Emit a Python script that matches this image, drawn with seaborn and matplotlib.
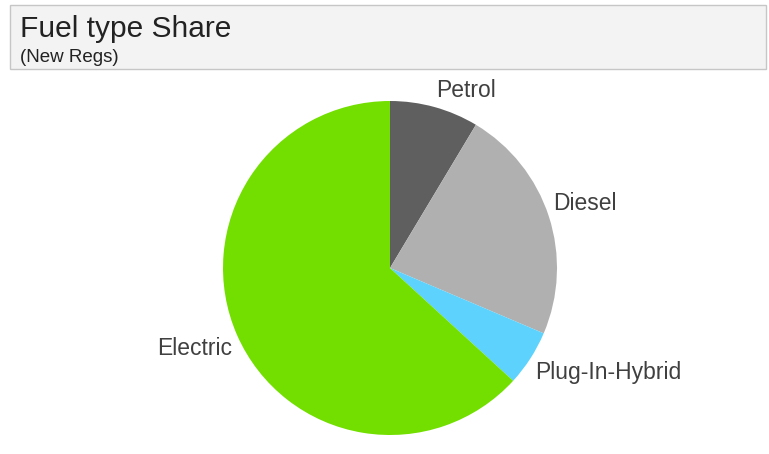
import matplotlib
matplotlib.use("Agg")
import matplotlib.pyplot as plt
from matplotlib.patches import Rectangle
import seaborn as sns

# Share of new registrations by fuel type (%)
fuel_types = ["Petrol", "Diesel", "Plug-In-Hybrid", "Electric"]
shares = [8.6, 22.8, 5.4, 63.2]
slice_colors = ["#5f5f5f", "#b0b0b0", "#5cd2fd", "#72df00"]

title = "Fuel type Share"
subtitle = "(New Regs)"

sns.set_theme(style="white")
plt.rcParams["font.family"] = ["Liberation Sans", "DejaVu Sans"]

W, H = 769, 454
fig = plt.figure(figsize=(W / 100, H / 100), dpi=100)
fig.patch.set_facecolor("white")

# Header panel
fig.patches.append(Rectangle((10 / W, 1 - 69 / H), 756 / W, 64 / H,
                             transform=fig.transFigure, facecolor="#f3f3f3",
                             edgecolor="#c6c6c6", linewidth=1.0, zorder=0))
fig.text(20 / W, 1 - 37 / H, title, fontsize=21.5, color="#222222",
         ha="left", va="baseline")
fig.text(20 / W, 1 - 62 / H, subtitle, fontsize=13.5, color="#222222",
         ha="left", va="baseline")

# Pie: centre at (390, 268) px, radius 167 px
r_px = 167
lim = 1.1
side = 2 * r_px * lim
cx, cy = 390, H - 268
ax = fig.add_axes([(cx - side / 2) / W, (cy - side / 2) / H, side / W, side / H])
wedges, texts = ax.pie(
    shares, labels=fuel_types, colors=slice_colors, startangle=90,
    counterclock=False, labeldistance=1.03,
    wedgeprops=dict(linewidth=0, antialiased=True),
    textprops=dict(fontsize=16.5, color="#404040"),
)
# Labels sit above their anchor in the upper half, below it in the lower half
for t in texts:
    t.set_va("bottom" if t.get_position()[1] > 0 else "top")

ax.set_xlim(-lim, lim)
ax.set_ylim(-lim, lim)
ax.set_aspect("equal")
ax.axis("off")

fig.savefig("out.png", dpi=100, facecolor="white")
